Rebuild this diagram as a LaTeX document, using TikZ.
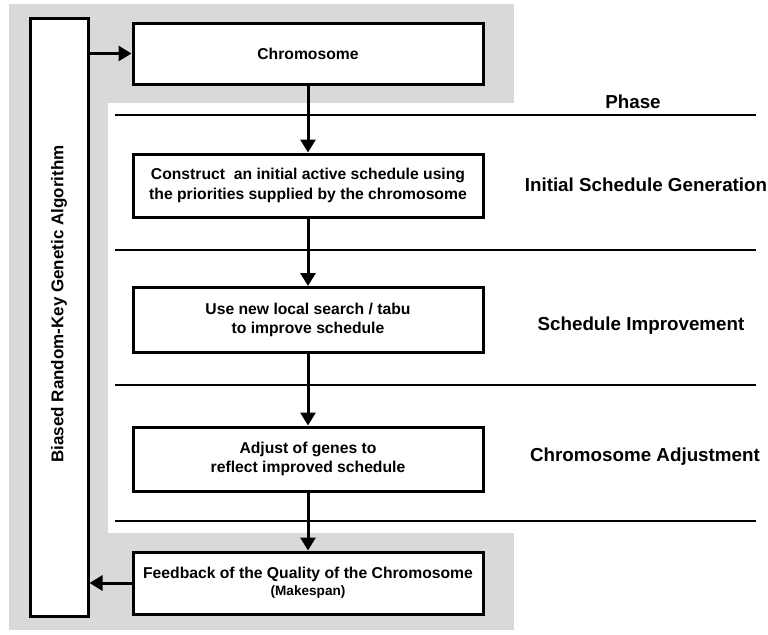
\documentclass[tikz,border=0pt]{standalone}
\usepackage{fontspec}
\setmainfont{Liberation Sans}
\usetikzlibrary{arrows.meta}
\definecolor{panelgray}{HTML}{D9D9D9}
\tikzset{
  stepbox/.style={draw,line width=1.5pt,fill=white,minimum width=175pt,
    minimum height=31.5pt,inner sep=0pt,align=center,
    font=\bfseries\fontsize{7.85}{9.6}\selectfont},
  flow/.style={line width=1.5pt,-{Triangle[length=6.5pt,width=7.5pt]}},
  phaselabel/.style={font=\bfseries\fontsize{9.4}{11}\selectfont},
  phaseline/.style={line width=0.7pt}
}
\begin{document}
\begin{tikzpicture}[x=0.5pt,y=-0.5pt]
\useasboundingbox (0,0) rectangle (768,634);
% background panels
\fill[panelgray] (9,4) rectangle (514,630);
\fill[white] (108,103) rectangle (768,533);
%
\node[stepbox,minimum width=29pt,minimum height=299pt] (bga) at (59,317) {};
\node[rotate=90,font=\bfseries\fontsize{8.5}{10}\selectfont] (bgatext) at (59,304)
  {Biased Random-Key Genetic Algorithm};
%
\node[stepbox,minimum height=30.5pt] (chrom) at (308,53.5) {Chromosome};
\node[stepbox] (construct) at (308,185.5)
  {Construct\ \ an initial active schedule using\\the priorities supplied by the chromosome};
\node[stepbox,minimum height=32.5pt] (improve) at (308,320)
  {Use new local search / tabu\\to improve schedule};
\node[stepbox,minimum height=32pt] (adjust) at (308,459)
  {Adjust of genes to\\reflect improved schedule};
\node[stepbox,minimum height=31pt] (feedback) at (308,583)
  {Feedback of the Quality of the Chromosome\\[-1pt]{\fontsize{6.8}{8}\selectfont(Makespan)}};
%
% phases
\draw[phaseline] (115,115) -- (756,115);
\draw[phaseline] (115,250) -- (756,250);
\draw[phaseline] (115,385) -- (756,385);
\draw[phaseline] (115,521) -- (756,521);
\node[phaselabel] (phase) at (633,102) {Phase};
\node[phaselabel] (gen) at (646,185) {Initial Schedule Generation};
\node[phaselabel] (impr) at (641,326) {Schedule Improvement};
\node[phaselabel] (adj) at (645,457) {Chromosome Adjustment};
%
% arrows
\draw[flow] (bga.east |- chrom) -- (chrom.west);
\draw[flow] (chrom) -- (construct);
\draw[flow] (construct) -- (improve);
\draw[flow] (improve) -- (adjust);
\draw[flow] (adjust) -- (feedback);
\draw[flow] (feedback.west) -- (bga.east |- feedback);
\end{tikzpicture}
\end{document}
